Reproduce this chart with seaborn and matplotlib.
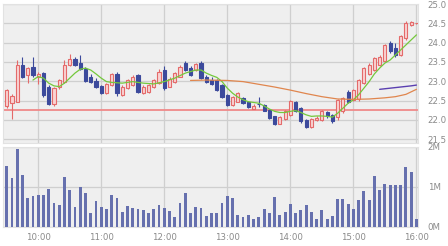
import matplotlib
matplotlib.use("Agg")
import matplotlib.pyplot as plt
import seaborn as sns
import numpy as np
import pandas as pd

# ---- data (5-minute bars from 9:30 to 16:00) ----
opens = [22.35, 22.43, 22.47, 23.42, 23.16, 23.38, 23.10, 23.20, 22.86, 22.40,
         22.86, 22.98, 23.42, 23.57, 23.47, 23.32, 23.10, 23.00, 22.88, 22.70,
         22.91, 23.20, 22.65, 22.83, 22.90, 23.16, 22.69, 22.73, 22.86, 22.95,
         23.30, 22.86, 22.99, 23.12, 23.48, 23.34, 23.29, 23.48, 23.12, 23.02,
         23.03, 22.90, 22.65, 22.39, 22.47, 22.56, 22.47, 22.29, 22.42, 22.39,
         22.26, 22.09, 21.90, 22.03, 22.13, 22.47, 22.30, 22.00, 21.82, 22.00,
         22.00, 22.19, 22.13, 22.07, 22.22, 22.73, 22.52, 22.54, 22.95, 23.20,
         23.29, 23.42, 23.53, 23.98, 23.85, 23.68, 24.11, 24.46, 24.50]
highs = [22.80, 22.67, 23.55, 23.62, 23.38, 23.62, 23.25, 23.25, 22.90, 22.85,
         23.05, 23.55, 23.71, 23.64, 23.68, 23.36, 23.20, 23.08, 22.90, 22.95,
         23.22, 23.25, 22.90, 23.06, 23.15, 23.20, 22.90, 22.93, 23.06, 23.32,
         23.40, 23.10, 23.24, 23.42, 23.52, 23.40, 23.47, 23.52, 23.15, 23.10,
         23.05, 22.92, 22.67, 22.62, 22.73, 22.60, 22.50, 22.40, 22.58, 22.42,
         22.28, 22.10, 22.10, 22.25, 22.52, 22.50, 22.32, 22.02, 22.05, 22.10,
         22.25, 22.24, 22.15, 22.55, 22.59, 22.76, 22.80, 23.05, 23.37, 23.46,
         23.63, 23.67, 23.97, 24.03, 23.98, 24.19, 24.55, 24.57, 24.52]
lows = [22.30, 22.03, 22.45, 23.08, 22.95, 23.12, 22.92, 22.60, 22.38, 22.37,
        22.80, 22.95, 23.40, 23.40, 23.29, 22.97, 22.95, 22.82, 22.66, 22.68,
        22.88, 22.62, 22.62, 22.80, 22.88, 22.70, 22.66, 22.70, 22.83, 22.93,
        22.78, 22.84, 22.96, 23.10, 23.26, 23.14, 23.26, 23.05, 22.96, 22.90,
        22.75, 22.57, 22.36, 22.37, 22.45, 22.40, 22.30, 22.27, 22.33, 22.22,
        22.03, 21.87, 21.88, 22.00, 22.10, 22.20, 21.93, 21.78, 21.80, 21.98,
        21.98, 22.04, 21.93, 22.00, 22.18, 22.44, 22.50, 22.50, 22.92, 23.17,
        23.26, 23.40, 23.50, 23.74, 23.64, 23.65, 24.08, 24.43, 24.48]
closes = [22.78, 22.62, 23.42, 23.12, 23.34, 23.16, 23.18, 22.65, 22.40, 22.82,
          23.03, 23.42, 23.57, 23.43, 23.32, 23.00, 22.98, 22.86, 22.70, 22.93,
          23.20, 22.69, 22.86, 23.03, 23.12, 22.73, 22.86, 22.90, 23.03, 23.25,
          22.82, 23.07, 23.20, 23.38, 23.29, 23.17, 23.44, 23.08, 22.99, 22.93,
          22.78, 22.60, 22.39, 22.59, 22.70, 22.43, 22.33, 22.36, 22.40, 22.24,
          22.06, 21.90, 22.07, 22.22, 22.49, 22.24, 21.96, 21.81, 22.02, 22.05,
          22.22, 22.09, 21.96, 22.52, 22.56, 22.47, 22.78, 23.02, 23.34, 23.42,
          23.60, 23.64, 23.94, 23.77, 23.68, 24.16, 24.52, 24.54, 24.50]
volumes_m = [1.53, 1.23, 1.95, 1.29, 0.73, 0.77, 0.81, 0.79, 0.96, 0.61,
             0.54, 1.26, 0.92, 0.51, 0.99, 0.84, 0.35, 0.65, 0.51, 0.46,
             0.81, 0.73, 0.38, 0.52, 0.48, 0.46, 0.42, 0.34, 0.44, 0.54,
             0.48, 0.41, 0.24, 0.59, 0.84, 0.35, 0.51, 0.48, 0.28, 0.35,
             0.34, 0.61, 0.77, 0.73, 0.30, 0.24, 0.30, 0.21, 0.25, 0.44,
             0.35, 0.75, 0.31, 0.38, 0.58, 0.35, 0.42, 0.55, 0.38, 0.21,
             0.42, 0.21, 0.27, 0.71, 0.71, 0.58, 0.46, 0.68, 0.89, 0.67,
             1.27, 0.92, 1.08, 1.04, 1.04, 1.06, 1.49, 1.38, 0.19]

ma_short_bar = [5, 6, 7, 8, 9, 10, 11, 12, 13, 14, 15, 16, 17, 18, 19, 20, 22, 24, 26, 28,
                30, 32, 34, 36, 37, 38, 39, 40, 41, 42, 43, 44, 45, 46, 47, 48, 49, 50, 51, 52,
                53, 54, 55, 56, 57, 58, 59, 60, 61, 62, 63, 64, 65, 66, 67, 68, 69, 70, 71, 72,
                73, 74, 75, 76, 77, 78]
ma_short_val = [23.03, 23.12, 23.08, 22.95, 22.88, 22.86, 22.95, 23.08, 23.21, 23.31,
                23.34, 23.29, 23.19, 23.08, 22.99, 22.97, 22.95, 22.99, 22.95, 22.93,
                22.99, 23.08, 23.21, 23.29, 23.29, 23.21, 23.15, 23.10, 22.99, 22.82,
                22.69, 22.59, 22.52, 22.47, 22.45, 22.43, 22.36, 22.28, 22.22, 22.19,
                22.19, 22.22, 22.24, 22.19, 22.13, 22.09, 22.10, 22.10, 22.09, 22.07,
                22.17, 22.30, 22.43, 22.52, 22.65, 22.82, 22.99, 23.19, 23.34, 23.47,
                23.55, 23.68, 23.81, 23.94, 24.07, 24.20]
ma_mid_bar = [35, 38, 42, 45, 48, 51, 54, 57, 60, 63, 66, 69, 72, 74, 76, 78]
ma_mid_val = [23.02, 23.03, 23.02, 22.99, 22.92, 22.85, 22.77, 22.68, 22.60, 22.54,
              22.53, 22.54, 22.57, 22.60, 22.66, 22.79]
ma_long_bar = [71, 73, 75, 77, 78]
ma_long_val = [22.79, 22.82, 22.85, 22.88, 22.90]

prev_close = 22.26
hour_labels = ["10:00", "11:00", "12:00", "13:00", "14:00", "15:00", "16:00"]
price_ticks = [21.5, 22.0, 22.5, 23.0, 23.5, 24.0, 24.5, 25.0]
vol_ticks = [0, 1, 2]
vol_labels = ["0M", "1M", "2M"]

# ---- styling ----
UP_EDGE = "#e46a6a"
UP_FACE = "#f9d3d3"
DOWN = "#3c4a9c"
VOL = "#6670ae"
BG = "#efefef"
GRID = "#cfcfcf"
TXT = "#8a8a8a"

sns.set_style("white")
plt.rcParams["font.family"] = ["DejaVu Sans"]

fig = plt.figure(figsize=(4.48, 2.46), dpi=100)
W, H = 448, 246
def axrect(x0, y0, x1, y1):
    return [x0 / W, 1 - y1 / H, (x1 - x0) / W, (y1 - y0) / H]

ax1 = fig.add_axes(axrect(3, 4, 418, 143))
ax2 = fig.add_axes(axrect(3, 147, 418, 227))

minutes = np.arange(len(closes)) * 5.0
hour_pos = [30 + 60 * k for k in range(len(hour_labels))]

for ax in (ax1, ax2):
    ax.set_facecolor(BG)
    for s in ax.spines.values():
        s.set_color("#e2e2e2")
        s.set_linewidth(0.8)
    ax.set_xlim(-3.5, 391.5)
    ax.set_xticks(hour_pos)
    ax.grid(True, color=GRID, linewidth=0.9)
    ax.set_axisbelow(True)
    ax.yaxis.tick_right()
    ax.tick_params(length=0, labelsize=6.2, colors=TXT)

# price panel
ax1.axhline(prev_close, color="#f08a8a", linewidth=1.3, zorder=1.5)
for x, o, h, l, c in zip(minutes, opens, highs, lows, closes):
    up = c >= o
    edge = UP_EDGE if up else DOWN
    face = UP_FACE if up else DOWN
    ax1.vlines(x, l, h, color=edge, linewidth=0.8, zorder=2)
    ax1.bar(x, max(abs(c - o), 0.012), bottom=min(o, c), width=3.0,
            facecolor=face, edgecolor=edge, linewidth=0.8, zorder=3)

df_s = pd.DataFrame({"t": np.array(ma_short_bar) * 5.0, "v": ma_short_val})
df_m = pd.DataFrame({"t": np.array(ma_mid_bar) * 5.0, "v": ma_mid_val})
df_l = pd.DataFrame({"t": np.array(ma_long_bar) * 5.0, "v": ma_long_val})
sns.lineplot(data=df_s, x="t", y="v", ax=ax1, color="#74c83c", linewidth=0.9, zorder=4)
sns.lineplot(data=df_m, x="t", y="v", ax=ax1, color="#e0864e", linewidth=0.9, zorder=4)
sns.lineplot(data=df_l, x="t", y="v", ax=ax1, color="#5a3fb0", linewidth=1.0, zorder=4)

ax1.set_ylim(21.4, 25.0)
ax1.set_yticks(price_ticks)
ax1.set_yticklabels([f"{v:.1f}" for v in price_ticks])
ax1.set_xticklabels([])
ax1.set_xlabel("")
ax1.set_ylabel("")
ax1.tick_params(axis="y", pad=7)

# volume panel
ax2.bar(minutes, volumes_m, width=2.7, color=VOL, linewidth=0, zorder=3)
ax2.set_xlim(-3.5, 391.5)
ax2.set_xticks(hour_pos)
ax2.set_xticklabels(hour_labels)
ax2.set_ylim(0, 2.0)
ax2.set_yticks(vol_ticks)
ax2.set_yticklabels(vol_labels)
ax2.set_xlabel("")
ax2.set_ylabel("")
ax2.yaxis.tick_right()
ax2.tick_params(axis="y", pad=7)
ax2.tick_params(axis="x", pad=4)

fig.savefig("out.png", dpi=100, facecolor="white")
